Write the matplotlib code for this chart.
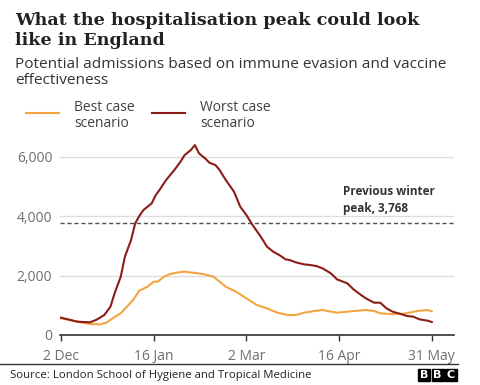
import numpy as np
import pandas as pd
import matplotlib
matplotlib.use("Agg")
import matplotlib.pyplot as plt
from matplotlib.patches import Rectangle

# days since 2 Dec 2021
worst_days = [0, 8, 14, 17, 21, 24, 26, 29, 31, 34, 36, 38, 40, 42, 44, 46, 48, 51, 55, 58,
              60, 63, 65, 67, 70, 72, 75, 77, 80, 84, 87, 90, 93, 97, 100, 103, 106, 109,
              111, 114, 118, 121, 124, 127, 131, 134, 139, 142, 145, 148, 152, 155, 158,
              161, 165, 168, 171, 174, 178, 180]
worst_vals = [583, 448, 426, 505, 673, 953, 1401, 1962, 2634, 3195, 3755, 4002, 4204, 4316,
              4428, 4708, 4899, 5213, 5549, 5829, 6053, 6222, 6390, 6110, 5941, 5796, 5717,
              5549, 5213, 4820, 4316, 4036, 3699, 3307, 2971, 2803, 2690, 2545, 2522, 2444,
              2377, 2354, 2320, 2242, 2074, 1872, 1738, 1536, 1379, 1233, 1087, 1087, 897,
              785, 706, 639, 617, 527, 482, 437]

best_days = [0, 8, 14, 19, 22, 25, 29, 32, 35, 38, 42, 45, 47, 50, 53, 56, 60, 64, 69, 74,
             77, 80, 85, 90, 95, 100, 105, 110, 114, 118, 123, 127, 131, 134, 139, 144, 148,
             152, 155, 160, 165, 169, 173, 178, 180]
best_vals = [560, 448, 370, 359, 415, 560, 729, 953, 1177, 1491, 1625, 1794, 1794, 1962, 2051,
             2096, 2130, 2096, 2051, 1962, 1794, 1625, 1457, 1233, 1009, 897, 751, 673, 673,
             751, 807, 841, 785, 751, 785, 818, 841, 807, 729, 706, 706, 751, 807, 841, 796]

prev_peak = 3768
start = pd.Timestamp("2021-12-02")
tick_dates = ["2021-12-02", "2022-01-16", "2022-03-02", "2022-04-16", "2022-05-31"]
tick_labels = ["2 Dec", "16 Jan", "2 Mar", "16 Apr", "31 May"]
y_ticks = [0, 2000, 4000, 6000]

worst_x = start + pd.to_timedelta(worst_days, unit="D")
best_x = start + pd.to_timedelta(best_days, unit="D")

W, H = 480, 385
fig = plt.figure(figsize=(W / 100, H / 100), dpi=100)
fig.patch.set_facecolor("white")

def fx(px):
    return px / W

def fy(py):
    return 1 - py / H

sans = "Open Sans"
red = "#8c1c17"
orange = "#f2a541"

ax = fig.add_axes([fx(60), fy(335), fx(454) - fx(60), fy(141.8) - fy(335)])
ax.plot(best_x, best_vals, color=orange, lw=1.5, zorder=3)
ax.plot(worst_x, worst_vals, color=red, lw=1.5, zorder=4)
ax.axhline(prev_peak, color="#505050", lw=1, ls=(0, (3, 2)), zorder=2)

ax.set_ylim(0, 6500)
ax.set_xlim(start - pd.Timedelta(days=0.5), start + pd.Timedelta(days=190.8))
ax.set_yticks(y_ticks)
ax.set_yticklabels([f"{v:,}" for v in y_ticks], fontfamily=sans, fontsize=10, color="#6e6e6e")
ax.set_xticks(pd.to_datetime(tick_dates))
ax.set_xticklabels(tick_labels, fontfamily=sans, fontsize=10, color="#6e6e6e")
ax.tick_params(axis="y", length=0, pad=5.5)
ax.tick_params(axis="x", length=4, width=1, color="#333333", pad=6)
ax.grid(axis="y", color="#dddddd", lw=1)
ax.set_axisbelow(True)
for s in ["top", "right", "left"]:
    ax.spines[s].set_visible(False)
ax.spines["bottom"].set_color("#333333")
ax.spines["bottom"].set_linewidth(1.2)

ax.text(0.718, (212 - 335) / (141.8 - 335), "Previous winter\npeak, 3,768",
        transform=ax.transAxes, fontfamily=sans, fontsize=8.5, fontweight="bold",
        color="#333333", va="baseline", ha="left", linespacing=1.4)

# title and subtitle
fig.text(fx(15), fy(45), "What the hospitalisation peak could look\nlike in England",
         fontfamily="DejaVu Serif", fontweight="bold", fontsize=12.6, color="#222222",
         va="baseline", linespacing=1.26)
fig.text(fx(15), fy(84), "Potential admissions based on immune evasion and vaccine\neffectiveness",
         fontfamily=sans, fontsize=11.1, color="#333333", va="baseline", linespacing=1.08)

# legend
fig.add_artist(plt.Line2D([fx(26), fx(59)], [fy(113), fy(113)], color=orange, lw=1.5))
fig.add_artist(plt.Line2D([fx(152), fx(185)], [fy(113), fy(113)], color=red, lw=1.5))
fig.text(fx(74), fy(127), "Best case\nscenario", fontfamily=sans, fontsize=10,
         color="#404040", va="baseline", linespacing=1.08)
fig.text(fx(200), fy(127), "Worst case\nscenario", fontfamily=sans, fontsize=10,
         color="#404040", va="baseline", linespacing=1.08)

# footer
fig.add_artist(plt.Line2D([0, fx(458)], [fy(364), fy(364)], color="#333333", lw=1))
fig.text(fx(10), fy(378), "Source: London School of Hygiene and Tropical Medicine",
         fontfamily=sans, fontsize=8.2, color="#222222", va="baseline")
for i, letter in enumerate("BBC"):
    x0 = 418 + i * 13.5
    fig.add_artist(Rectangle((fx(x0), fy(381)), fx(12), 12 / H, color="black",
                             transform=fig.transFigure))
    fig.text(fx(x0 + 6), fy(375), letter, fontfamily="DejaVu Sans", fontweight="bold",
             fontsize=8, color="white", ha="center", va="center")

fig.savefig("out.png", dpi=100)
